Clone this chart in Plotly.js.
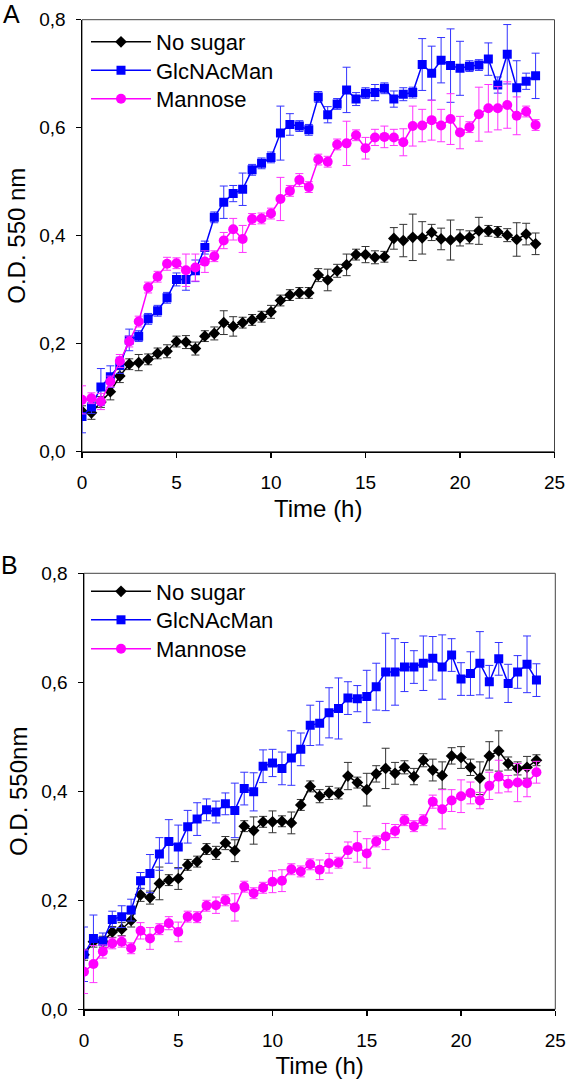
<!DOCTYPE html>
<html>
<head>
<meta charset="utf-8">
<script src="https://cdn.plot.ly/plotly-3.0.1.min.js"></script>
<style>html,body{margin:0;padding:0;background:#fff;}#chart{width:566px;height:1079px;}</style>
</head>
<body>
<div id="chart"></div>
<script>
// Time points (h)
const timeH = [0,0.5,1,1.5,2,2.5,3,3.5,4,4.5,5,5.5,6,6.5,7,7.5,8,8.5,9,9.5,10,10.5,11,11.5,12,12.5,13,13.5,14,14.5,15,15.5,16,16.5,17,17.5,18,18.5,19,19.5,20,20.5,21,21.5,22,22.5,23,23.5,24];

const seriesNames = ["No sugar", "GlcNAcMan", "Mannose"];

// Panel A
const aNoSugar = [0.075,0.072,0.092,0.111,0.140,0.162,0.165,0.171,0.182,0.186,0.204,0.203,0.191,0.214,0.219,0.239,0.232,0.239,0.244,0.250,0.259,0.280,0.290,0.294,0.294,0.327,0.318,0.335,0.346,0.365,0.365,0.360,0.361,0.395,0.391,0.397,0.396,0.406,0.394,0.392,0.396,0.397,0.409,0.409,0.407,0.401,0.393,0.403,0.385];
const aNoSugarErr = [0.010,0.012,0.010,0.015,0.012,0.010,0.015,0.010,0.010,0.012,0.010,0.012,0.012,0.010,0.012,0.022,0.018,0.010,0.010,0.010,0.012,0.010,0.010,0.010,0.010,0.012,0.020,0.012,0.020,0.010,0.015,0.012,0.010,0.020,0.030,0.043,0.030,0.015,0.020,0.037,0.015,0.012,0.025,0.010,0.010,0.012,0.031,0.020,0.020];
const aGlcNAcMan = [0.065,0.083,0.120,0.139,0.160,0.207,0.214,0.246,0.261,0.285,0.319,0.319,0.335,0.378,0.434,0.462,0.478,0.486,0.522,0.534,0.545,0.590,0.606,0.603,0.596,0.657,0.624,0.644,0.670,0.653,0.664,0.665,0.673,0.653,0.662,0.665,0.717,0.701,0.725,0.715,0.710,0.714,0.716,0.727,0.679,0.736,0.674,0.686,0.696];
const aGlcNAcManErr = [0.030,0.012,0.034,0.020,0.015,0.020,0.010,0.010,0.010,0.010,0.012,0.020,0.020,0.012,0.010,0.030,0.015,0.030,0.010,0.010,0.010,0.050,0.020,0.010,0.010,0.010,0.015,0.010,0.042,0.012,0.010,0.015,0.010,0.015,0.012,0.010,0.048,0.050,0.042,0.068,0.050,0.010,0.010,0.030,0.015,0.055,0.050,0.015,0.042];
const aMannose = [0.096,0.099,0.093,0.130,0.168,0.204,0.241,0.304,0.324,0.348,0.349,0.336,0.341,0.352,0.362,0.391,0.412,0.394,0.431,0.432,0.441,0.468,0.483,0.503,0.490,0.541,0.537,0.569,0.571,0.586,0.562,0.582,0.583,0.582,0.573,0.603,0.604,0.614,0.604,0.616,0.591,0.601,0.625,0.636,0.636,0.642,0.622,0.630,0.605];
const aMannoseErr = [0.026,0.010,0.015,0.010,0.012,0.010,0.010,0.010,0.010,0.012,0.010,0.030,0.025,0.020,0.010,0.015,0.020,0.025,0.010,0.010,0.010,0.040,0.010,0.012,0.010,0.010,0.010,0.010,0.041,0.010,0.020,0.015,0.020,0.015,0.025,0.037,0.030,0.037,0.030,0.047,0.030,0.010,0.050,0.044,0.040,0.043,0.035,0.010,0.010];

// Panel B
const bNoSugar = [0.100,0.124,0.124,0.142,0.147,0.163,0.210,0.205,0.231,0.237,0.240,0.265,0.271,0.294,0.287,0.305,0.291,0.336,0.328,0.344,0.344,0.345,0.342,0.375,0.409,0.391,0.397,0.396,0.428,0.416,0.403,0.432,0.442,0.433,0.444,0.427,0.457,0.439,0.429,0.465,0.462,0.444,0.424,0.465,0.474,0.451,0.442,0.444,0.457];
const bNoSugarErr = [0.010,0.010,0.010,0.010,0.012,0.012,0.012,0.012,0.030,0.010,0.020,0.010,0.010,0.010,0.012,0.012,0.020,0.010,0.025,0.010,0.020,0.010,0.020,0.010,0.010,0.012,0.012,0.010,0.025,0.010,0.030,0.015,0.037,0.020,0.012,0.015,0.012,0.020,0.025,0.015,0.020,0.015,0.030,0.026,0.037,0.012,0.012,0.020,0.010];
const bGlcNAcMan = [0.101,0.130,0.125,0.165,0.170,0.182,0.236,0.249,0.285,0.308,0.298,0.335,0.349,0.366,0.362,0.377,0.365,0.405,0.399,0.446,0.452,0.442,0.461,0.477,0.521,0.525,0.544,0.552,0.571,0.570,0.574,0.592,0.619,0.619,0.628,0.628,0.635,0.644,0.628,0.650,0.606,0.616,0.635,0.601,0.643,0.598,0.619,0.633,0.604];
const bGlcNAcManErr = [0.050,0.043,0.015,0.015,0.020,0.020,0.015,0.035,0.030,0.040,0.040,0.030,0.030,0.020,0.020,0.020,0.050,0.030,0.035,0.030,0.025,0.030,0.050,0.030,0.037,0.040,0.046,0.056,0.030,0.024,0.048,0.043,0.071,0.061,0.045,0.030,0.050,0.040,0.059,0.030,0.030,0.040,0.058,0.030,0.030,0.035,0.030,0.052,0.030];
const bMannose = [0.069,0.083,0.106,0.121,0.124,0.112,0.144,0.130,0.147,0.158,0.142,0.170,0.169,0.190,0.191,0.200,0.187,0.225,0.213,0.223,0.234,0.236,0.257,0.253,0.266,0.256,0.268,0.269,0.292,0.298,0.286,0.308,0.317,0.327,0.347,0.336,0.347,0.381,0.367,0.383,0.391,0.397,0.383,0.410,0.427,0.414,0.416,0.415,0.435];
const bMannoseErr = [0.040,0.034,0.012,0.010,0.010,0.010,0.015,0.020,0.010,0.012,0.018,0.010,0.010,0.010,0.015,0.010,0.025,0.010,0.010,0.010,0.020,0.020,0.010,0.010,0.010,0.018,0.018,0.010,0.015,0.028,0.027,0.010,0.024,0.012,0.010,0.010,0.010,0.012,0.036,0.020,0.030,0.020,0.015,0.025,0.030,0.015,0.035,0.025,0.020];

const colors = ["#000000", "#0000ff", "#ff00ff"];
const errColors = ["#333333", "#3333ff", "#ff33ff"];
const symbols = ["diamond", "square", "circle"];
const sizes = [9, 9, 10];

const W = 566, H = 1079;
const FONT = '"Liberation Sans", Arial, sans-serif';

function mk(i, y, err, xa, ya, leg) {
  return {
    type: "scatter", mode: "lines+markers",
    x: timeH, y: y, name: seriesNames[i],
    xaxis: xa, yaxis: ya, legend: leg,
    line: {color: colors[i], width: 1.5},
    marker: {symbol: symbols[i], size: sizes[i], color: colors[i], line: {width: 0}},
    error_y: {type: "data", array: err, visible: true, color: errColors[i], thickness: 1, width: 4}
  };
}

const traces = [
  mk(0, aNoSugar, aNoSugarErr, "x", "y", "legend"),
  mk(1, aGlcNAcMan, aGlcNAcManErr, "x", "y", "legend2"),
  mk(2, aMannose, aMannoseErr, "x", "y", "legend3"),
  mk(0, bNoSugar, bNoSugarErr, "x2", "y2", "legend4"),
  mk(1, bGlcNAcMan, bGlcNAcManErr, "x2", "y2", "legend5"),
  mk(2, bMannose, bMannoseErr, "x2", "y2", "legend6")
];

function xAxis(dom, anchor) {
  return {
    domain: dom, anchor: anchor, range: [0, 25], dtick: 5, tick0: 0,
    ticks: "outside", ticklen: 5, tickwidth: 1.5, tickcolor: "#000",
    showline: true, linecolor: "#000", linewidth: 1.5,
    showgrid: false, zeroline: false, ticklabelstandoff: 8,
    tickfont: {family: FONT, size: 19, color: "#000"},
    title: {text: "Time (h)", font: {family: FONT, size: 24, color: "#000"}, standoff: 8}
  };
}
function yAxis(dom, anchor, title) {
  return {
    domain: dom, anchor: anchor, range: [0, 0.8], dtick: 0.2, tick0: 0, tickformat: ".1f",
    ticks: "outside", ticklen: 5, tickwidth: 1.5, tickcolor: "#000",
    showline: true, linecolor: "#000", linewidth: 1.5,
    showgrid: false, zeroline: false, ticklabelstandoff: 6,
    tickfont: {family: FONT, size: 19, color: "#000"},
    title: {text: title, font: {family: FONT, size: 24, color: "#000"}, standoff: 7}
  };
}

function frame(xr, yr) {
  return {type: "rect", xref: xr + " domain", yref: yr + " domain", x0: 0, x1: 1, y0: 0, y1: 1,
          line: {color: "#444", width: 1}, layer: "below"};
}

function leg(topPx) {
  return {x: 86 / W, xanchor: "left", y: 1 - topPx / H, yanchor: "top",
          bgcolor: "rgba(0,0,0,0)", borderwidth: 0, itemwidth: 60, tracegroupgap: 0,
          font: {family: FONT, size: 22, color: "#000"}};
}

const layout = {
  width: W, height: H,
  margin: {l: 0, r: 0, t: 0, b: 0},
  paper_bgcolor: "#fff", plot_bgcolor: "#fff",
  separators: ", ",
  font: {family: FONT, color: "#000"},
  xaxis: xAxis([82 / W, 554.5 / W], "y"),
  yaxis: yAxis([(H - 451.7) / H, (H - 19.7) / H], "x", "O.D. 550 nm"),
  xaxis2: xAxis([84 / W, 555.3 / W], "y2"),
  yaxis2: yAxis([(H - 1009.3) / H, (H - 573.3) / H], "x2", "O.D. 550nm"),
  showlegend: true,
  legend: leg(21),
  legend2: leg(49.5),
  legend3: leg(78),
  legend4: leg(570.5),
  legend5: leg(599),
  legend6: leg(628),
  shapes: [frame("x", "y"), frame("x2", "y2")],
  annotations: [
    {text: "A", xref: "paper", yref: "paper", x: 11 / W, y: 1 - 13.5 / H, xanchor: "center", yanchor: "middle",
     showarrow: false, font: {family: FONT, size: 25, color: "#000"}},
    {text: "B", xref: "paper", yref: "paper", x: 9 / W, y: 1 - 565 / H, xanchor: "center", yanchor: "middle",
     showarrow: false, font: {family: FONT, size: 25, color: "#000"}}
  ]
};

Plotly.newPlot("chart", traces, layout, {staticPlot: true, displayModeBar: false});
</script>
</body>
</html>
